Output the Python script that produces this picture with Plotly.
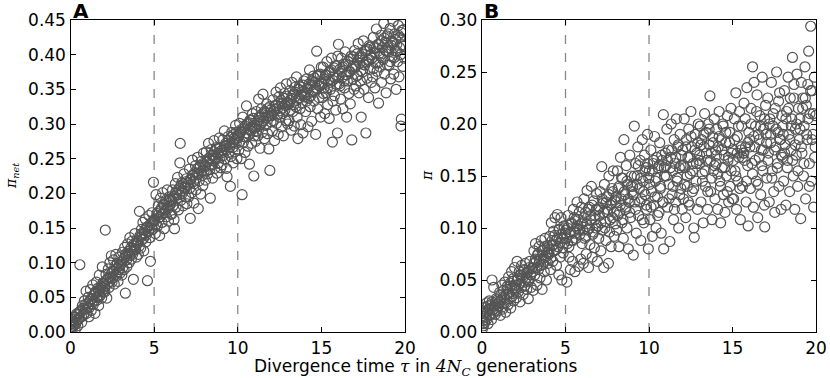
import plotly.graph_objects as go

# ---- panel A: pi_net vs divergence time ----
tau_a = [
    0.02, 0.05, 0.08, 0.12, 0.15, 0.2, 0.24, 0.28, 0.31, 0.36, 0.4, 0.44, 0.5, 0.53, 0.56, 0.62, 0.67, 0.71, 0.78, 0.83, 0.88, 0.93, 0.97,
    1.02, 1.06, 1.1, 1.15, 1.19, 1.24, 1.28, 1.33, 1.37, 1.42, 1.46, 1.5, 1.55, 1.59, 1.63, 1.68, 1.72, 1.77, 1.81, 1.86, 1.9, 1.95, 1.98,
    2.02, 2.06, 2.08, 2.12, 2.17, 2.21, 2.26, 2.3, 2.35, 2.39, 2.44, 2.48, 2.53, 2.57, 2.62, 2.66, 2.71, 2.75, 2.8, 2.84, 2.89, 2.93, 2.97,
    3.03, 3.07, 3.11, 3.15, 3.2, 3.24, 3.28, 3.32, 3.37, 3.41, 3.46, 3.5, 3.55, 3.59, 3.64, 3.68, 3.72, 3.76, 3.81, 3.85, 3.9, 3.94, 3.98,
    4.02, 4.06, 4.12, 4.15, 4.2, 4.24, 4.29, 4.33, 4.38, 4.42, 4.47, 4.51, 4.56, 4.6, 4.65, 4.69, 4.74, 4.78, 4.82, 4.87, 4.91, 4.96, 4.99,
    5.03, 5.07, 5.11, 5.16, 5.2, 5.25, 5.29, 5.33, 5.38, 5.42, 5.47, 5.51, 5.55, 5.6, 5.64, 5.69, 5.73, 5.78, 5.82, 5.86, 5.91, 5.95, 5.99,
    6.02, 6.06, 6.1, 6.15, 6.19, 6.22, 6.27, 6.31, 6.36, 6.4, 6.45, 6.49, 6.54, 6.56, 6.6, 6.65, 6.69, 6.74, 6.78, 6.83, 6.87, 6.92, 6.96,
    7.02, 7.07, 7.11, 7.16, 7.2, 7.25, 7.29, 7.33, 7.38, 7.42, 7.47, 7.51, 7.56, 7.6, 7.64, 7.69, 7.73, 7.78, 7.82, 7.87, 7.91, 7.95, 7.99,
    8.03, 8.07, 8.12, 8.16, 8.2, 8.25, 8.29, 8.33, 8.36, 8.41, 8.45, 8.5, 8.54, 8.58, 8.63, 8.67, 8.72, 8.76, 8.81, 8.85, 8.9, 8.94, 8.98,
    9.02, 9.06, 9.11, 9.15, 9.2, 9.24, 9.29, 9.33, 9.36, 9.42, 9.46, 9.51, 9.56, 9.6, 9.64, 9.69, 9.73, 9.78, 9.82, 9.87, 9.91, 9.95, 9.99,
    10.02, 10.06, 10.11, 10.15, 10.2, 10.26, 10.3, 10.34, 10.39, 10.43, 10.48, 10.52, 10.56, 10.61, 10.65, 10.7, 10.74, 10.79, 10.83, 10.88, 10.92, 10.96, 10.99,
    11.03, 11.07, 11.11, 11.16, 11.2, 11.25, 11.29, 11.33, 11.38, 11.42, 11.47, 11.51, 11.55, 11.6, 11.64, 11.69, 11.73, 11.78, 11.82, 11.86, 11.92, 11.95, 11.99,
    12.02, 12.07, 12.11, 12.15, 12.2, 12.24, 12.29, 12.33, 12.38, 12.42, 12.46, 12.51, 12.55, 12.6, 12.64, 12.69, 12.73, 12.78, 12.82, 12.87, 12.91, 12.95, 12.99,
    13.03, 13.07, 13.12, 13.16, 13.2, 13.25, 13.29, 13.33, 13.38, 13.42, 13.47, 13.51, 13.55, 13.6, 13.64, 13.69, 13.73, 13.77, 13.82, 13.86, 13.9, 13.95, 13.99,
    14.02, 14.06, 14.11, 14.15, 14.2, 14.24, 14.29, 14.33, 14.38, 14.42, 14.47, 14.51, 14.56, 14.6, 14.66, 14.69, 14.72, 14.78, 14.82, 14.86, 14.91, 14.95, 14.99,
    15.03, 15.07, 15.11, 15.16, 15.2, 15.25, 15.29, 15.33, 15.38, 15.42, 15.47, 15.51, 15.55, 15.6, 15.66, 15.69, 15.73, 15.78, 15.82, 15.86, 15.91, 15.96, 15.99,
    16.02, 16.07, 16.11, 16.15, 16.2, 16.24, 16.29, 16.33, 16.38, 16.42, 16.46, 16.51, 16.55, 16.6, 16.64, 16.69, 16.73, 16.78, 16.82, 16.87, 16.91, 16.95, 16.99,
    17.03, 17.07, 17.12, 17.16, 17.2, 17.25, 17.29, 17.33, 17.38, 17.42, 17.47, 17.51, 17.55, 17.6, 17.66, 17.69, 17.73, 17.78, 17.82, 17.86, 17.91, 17.95, 17.99,
    18.02, 18.06, 18.11, 18.15, 18.2, 18.24, 18.29, 18.33, 18.38, 18.42, 18.47, 18.51, 18.56, 18.6, 18.64, 18.69, 18.73, 18.78, 18.82, 18.87, 18.91, 18.95, 18.99,
    19.02, 19.06, 19.11, 19.15, 19.2, 19.24, 19.29, 19.33, 19.38, 19.42, 19.47, 19.51, 19.56, 19.6, 19.64, 19.69, 19.73, 19.76, 19.78, 19.82, 19.87, 19.91, 19.96,
]
pinet_a = [
    0.004, 0.012, 0.001, 0.018, 0.008, 0.015, 0.022, 0.003, 0.011, 0.026, 0.017, 0.009, 0.028, 0.02, 0.097, 0.031, 0.014, 0.038, 0.024, 0.045, 0.033, 0.059, 0.027,
    0.036, 0.05, 0.022, 0.044, 0.061, 0.031, 0.048, 0.068, 0.04, 0.055, 0.027, 0.058, 0.072, 0.046, 0.063, 0.038, 0.082, 0.054, 0.066, 0.049, 0.094, 0.071, 0.058,
    0.07, 0.058, 0.147, 0.083, 0.049, 0.076, 0.091, 0.064, 0.1, 0.079, 0.11, 0.072, 0.088, 0.104, 0.069, 0.095, 0.112, 0.081, 0.099, 0.073, 0.108, 0.09, 0.085,
    0.098, 0.082, 0.115, 0.104, 0.09, 0.122, 0.056, 0.109, 0.094, 0.127, 0.113, 0.1, 0.136, 0.118, 0.105, 0.131, 0.112, 0.076, 0.124, 0.142, 0.119, 0.108, 0.133,
    0.128, 0.112, 0.174, 0.139, 0.121, 0.148, 0.133, 0.158, 0.117, 0.142, 0.163, 0.13, 0.151, 0.074, 0.145, 0.168, 0.136, 0.102, 0.157, 0.172, 0.148, 0.216, 0.161,
    0.16, 0.142, 0.198, 0.171, 0.153, 0.182, 0.165, 0.139, 0.193, 0.176, 0.158, 0.201, 0.184, 0.149, 0.172, 0.19, 0.166, 0.205, 0.178, 0.16, 0.195, 0.183, 0.17,
    0.188, 0.17, 0.205, 0.192, 0.162, 0.149, 0.214, 0.18, 0.198, 0.223, 0.176, 0.207, 0.244, 0.272, 0.19, 0.215, 0.2, 0.182, 0.228, 0.209, 0.195, 0.221, 0.185,
    0.212, 0.195, 0.235, 0.164, 0.22, 0.201, 0.248, 0.226, 0.186, 0.214, 0.24, 0.205, 0.229, 0.252, 0.178, 0.218, 0.237, 0.199, 0.246, 0.226, 0.211, 0.258, 0.232,
    0.238, 0.219, 0.26, 0.245, 0.228, 0.272, 0.25, 0.234, 0.193, 0.263, 0.241, 0.222, 0.255, 0.276, 0.236, 0.249, 0.266, 0.229, 0.258, 0.244, 0.28, 0.252, 0.237,
    0.258, 0.241, 0.277, 0.262, 0.29, 0.249, 0.268, 0.236, 0.224, 0.282, 0.259, 0.271, 0.21, 0.253, 0.288, 0.266, 0.244, 0.279, 0.26, 0.298, 0.272, 0.25, 0.284,
    0.28, 0.262, 0.301, 0.288, 0.25, 0.198, 0.31, 0.274, 0.293, 0.259, 0.281, 0.326, 0.3, 0.268, 0.285, 0.242, 0.306, 0.29, 0.272, 0.315, 0.296, 0.225, 0.283,
    0.294, 0.275, 0.318, 0.301, 0.283, 0.336, 0.297, 0.265, 0.31, 0.322, 0.288, 0.343, 0.305, 0.279, 0.316, 0.298, 0.329, 0.286, 0.311, 0.264, 0.233, 0.32, 0.303,
    0.312, 0.29, 0.335, 0.318, 0.276, 0.327, 0.346, 0.301, 0.322, 0.285, 0.339, 0.31, 0.352, 0.296, 0.329, 0.315, 0.283, 0.344, 0.32, 0.305, 0.358, 0.331, 0.3,
    0.328, 0.305, 0.348, 0.334, 0.291, 0.36, 0.318, 0.342, 0.297, 0.353, 0.325, 0.368, 0.31, 0.279, 0.337, 0.355, 0.322, 0.299, 0.346, 0.33, 0.287, 0.362, 0.339,
    0.342, 0.318, 0.365, 0.351, 0.296, 0.337, 0.378, 0.325, 0.356, 0.304, 0.346, 0.369, 0.333, 0.36, 0.285, 0.349, 0.405, 0.322, 0.371, 0.338, 0.355, 0.31, 0.382,
    0.36, 0.338, 0.382, 0.352, 0.315, 0.371, 0.345, 0.39, 0.328, 0.362, 0.308, 0.376, 0.35, 0.395, 0.274, 0.333, 0.368, 0.341, 0.384, 0.32, 0.357, 0.287, 0.398,
    0.415, 0.358, 0.379, 0.336, 0.395, 0.367, 0.322, 0.386, 0.352, 0.404, 0.371, 0.31, 0.362, 0.39, 0.344, 0.376, 0.329, 0.398, 0.277, 0.365, 0.383, 0.35, 0.406,
    0.382, 0.355, 0.401, 0.37, 0.416, 0.345, 0.388, 0.362, 0.31, 0.397, 0.375, 0.42, 0.35, 0.385, 0.287, 0.406, 0.366, 0.392, 0.338, 0.413, 0.379, 0.4, 0.36,
    0.395, 0.368, 0.425, 0.41, 0.352, 0.388, 0.437, 0.376, 0.415, 0.33, 0.402, 0.382, 0.428, 0.36, 0.41, 0.393, 0.445, 0.372, 0.418, 0.345, 0.405, 0.385, 0.43,
    0.41, 0.385, 0.438, 0.365, 0.42, 0.397, 0.448, 0.372, 0.43, 0.405, 0.35, 0.415, 0.39, 0.442, 0.368, 0.425, 0.4, 0.297, 0.307, 0.435, 0.383, 0.412, 0.395,
]
# denser core of the panel A band
tau_a_core = [
    0.04, 0.1, 0.18, 0.26, 0.34, 0.42, 0.5, 0.58, 0.66, 0.74, 0.82, 0.9,
    1.04, 1.12, 1.2, 1.28, 1.36, 1.44, 1.52, 1.6, 1.68, 1.76, 1.84, 1.92,
    2.04, 2.12, 2.2, 2.28, 2.36, 2.44, 2.52, 2.6, 2.68, 2.76, 2.84, 2.92,
    3.04, 3.12, 3.2, 3.28, 3.36, 3.44, 3.52, 3.6, 3.68, 3.76, 3.84, 3.92,
    4.04, 4.12, 4.2, 4.28, 4.36, 4.44, 4.52, 4.6, 4.68, 4.76, 4.84, 4.92,
    5.04, 5.12, 5.2, 5.28, 5.36, 5.44, 5.52, 5.6, 5.68, 5.76, 5.84, 5.92,
    6.04, 6.12, 6.2, 6.28, 6.36, 6.44, 6.52, 6.6, 6.68, 6.76, 6.84, 6.92,
    7.04, 7.12, 7.2, 7.28, 7.36, 7.44, 7.52, 7.6, 7.68, 7.76, 7.84, 7.92,
    8.04, 8.12, 8.2, 8.28, 8.36, 8.44, 8.52, 8.6, 8.68, 8.76, 8.84, 8.92,
    9.04, 9.12, 9.2, 9.28, 9.36, 9.44, 9.52, 9.6, 9.68, 9.76, 9.84, 9.92,
    10.04, 10.12, 10.2, 10.28, 10.36, 10.44, 10.52, 10.6, 10.68, 10.76, 10.84, 10.92,
    11.04, 11.12, 11.2, 11.28, 11.36, 11.44, 11.52, 11.6, 11.68, 11.76, 11.84, 11.92,
    12.04, 12.12, 12.2, 12.28, 12.36, 12.44, 12.52, 12.6, 12.68, 12.76, 12.84, 12.92,
    13.04, 13.12, 13.2, 13.28, 13.36, 13.44, 13.52, 13.6, 13.68, 13.76, 13.84, 13.92,
    14.04, 14.12, 14.2, 14.28, 14.36, 14.44, 14.52, 14.6, 14.68, 14.76, 14.84, 14.92,
    15.04, 15.12, 15.2, 15.28, 15.36, 15.44, 15.52, 15.6, 15.68, 15.76, 15.84, 15.92,
    16.04, 16.12, 16.2, 16.28, 16.36, 16.44, 16.52, 16.6, 16.68, 16.76, 16.84, 16.92,
    17.04, 17.12, 17.2, 17.28, 17.36, 17.44, 17.52, 17.6, 17.68, 17.76, 17.84, 17.92,
    18.04, 18.12, 18.2, 18.28, 18.36, 18.44, 18.52, 18.6, 18.68, 18.76, 18.84, 18.92,
    19.04, 19.12, 19.2, 19.28, 19.36, 19.44, 19.52, 19.6, 19.68, 19.76, 19.84, 19.92,
]
pinet_a_core = [
    0.007, 0.016, 0.01, 0.021, 0.014, 0.025, 0.019, 0.03, 0.022, 0.034, 0.027, 0.04,
    0.042, 0.035, 0.047, 0.041, 0.052, 0.045, 0.056, 0.05, 0.06, 0.052, 0.064, 0.06,
    0.066, 0.074, 0.069, 0.079, 0.073, 0.084, 0.078, 0.088, 0.083, 0.092, 0.086, 0.096,
    0.101, 0.093, 0.106, 0.112, 0.104, 0.116, 0.11, 0.121, 0.115, 0.126, 0.12, 0.129,
    0.131, 0.124, 0.137, 0.142, 0.135, 0.147, 0.14, 0.152, 0.146, 0.155, 0.15, 0.16,
    0.163, 0.155, 0.168, 0.174, 0.166, 0.179, 0.171, 0.183, 0.176, 0.188, 0.181, 0.19,
    0.19, 0.182, 0.196, 0.201, 0.192, 0.205, 0.198, 0.211, 0.203, 0.214, 0.207, 0.217,
    0.215, 0.207, 0.221, 0.226, 0.217, 0.23, 0.222, 0.236, 0.228, 0.24, 0.232, 0.243,
    0.24, 0.232, 0.246, 0.251, 0.242, 0.255, 0.247, 0.26, 0.252, 0.264, 0.256, 0.266,
    0.262, 0.254, 0.268, 0.272, 0.263, 0.276, 0.267, 0.281, 0.273, 0.285, 0.277, 0.288,
    0.283, 0.274, 0.289, 0.293, 0.282, 0.297, 0.287, 0.301, 0.292, 0.305, 0.296, 0.308,
    0.298, 0.29, 0.305, 0.31, 0.299, 0.314, 0.304, 0.318, 0.309, 0.322, 0.312, 0.325,
    0.315, 0.305, 0.321, 0.326, 0.313, 0.33, 0.319, 0.334, 0.323, 0.337, 0.327, 0.34,
    0.33, 0.32, 0.337, 0.342, 0.328, 0.346, 0.334, 0.35, 0.338, 0.353, 0.341, 0.356,
    0.345, 0.333, 0.352, 0.358, 0.341, 0.362, 0.348, 0.366, 0.352, 0.369, 0.356, 0.372,
    0.357, 0.344, 0.365, 0.37, 0.352, 0.374, 0.36, 0.378, 0.363, 0.381, 0.366, 0.384,
    0.368, 0.355, 0.376, 0.382, 0.362, 0.386, 0.371, 0.39, 0.375, 0.394, 0.379, 0.397,
    0.383, 0.37, 0.392, 0.397, 0.377, 0.401, 0.386, 0.405, 0.39, 0.408, 0.393, 0.411,
    0.395, 0.38, 0.404, 0.41, 0.388, 0.415, 0.398, 0.42, 0.402, 0.424, 0.406, 0.427,
    0.404, 0.39, 0.413, 0.418, 0.396, 0.422, 0.405, 0.428, 0.41, 0.432, 0.414, 0.436,
]

# ---- panel B: pi vs divergence time ----
tau_b = [
    0.02, 0.05, 0.09, 0.12, 0.16, 0.2, 0.24, 0.28, 0.32, 0.36, 0.4, 0.44, 0.49, 0.53, 0.57, 0.6, 0.65, 0.7, 0.75, 0.8, 0.85, 0.9, 0.96,
    1.02, 1.06, 1.1, 1.15, 1.19, 1.24, 1.28, 1.33, 1.37, 1.42, 1.46, 1.5, 1.55, 1.59, 1.63, 1.68, 1.72, 1.77, 1.81, 1.86, 1.9, 1.95, 1.98,
    2.02, 2.06, 2.1, 2.15, 2.19, 2.23, 2.28, 2.32, 2.37, 2.41, 2.46, 2.5, 2.55, 2.59, 2.64, 2.68, 2.72, 2.77, 2.81, 2.86, 2.9, 2.94, 2.98,
    3.03, 3.07, 3.11, 3.16, 3.2, 3.25, 3.29, 3.33, 3.38, 3.42, 3.47, 3.51, 3.55, 3.6, 3.64, 3.69, 3.73, 3.77, 3.82, 3.86, 3.9, 3.95, 3.99,
    4.02, 4.06, 4.11, 4.15, 4.2, 4.24, 4.28, 4.33, 4.37, 4.42, 4.46, 4.51, 4.55, 4.6, 4.64, 4.69, 4.73, 4.78, 4.82, 4.86, 4.91, 4.95, 4.99,
    5.03, 5.08, 5.12, 5.16, 5.21, 5.25, 5.29, 5.34, 5.38, 5.42, 5.47, 5.51, 5.56, 5.6, 5.64, 5.69, 5.73, 5.78, 5.82, 5.87, 5.91, 5.95, 5.99,
    6.02, 6.07, 6.11, 6.15, 6.2, 6.24, 6.29, 6.33, 6.38, 6.42, 6.46, 6.51, 6.55, 6.6, 6.64, 6.69, 6.73, 6.77, 6.82, 6.86, 6.91, 6.95, 6.99,
    7.03, 7.07, 7.12, 7.17, 7.2, 7.25, 7.29, 7.33, 7.38, 7.42, 7.47, 7.51, 7.57, 7.6, 7.64, 7.69, 7.73, 7.78, 7.82, 7.86, 7.91, 7.95, 7.99,
    8.02, 8.06, 8.11, 8.15, 8.2, 8.24, 8.29, 8.33, 8.38, 8.42, 8.46, 8.5, 8.55, 8.59, 8.64, 8.68, 8.72, 8.76, 8.81, 8.85, 8.9, 8.94, 8.98,
    9.02, 9.06, 9.12, 9.15, 9.2, 9.24, 9.29, 9.33, 9.38, 9.42, 9.47, 9.51, 9.55, 9.6, 9.64, 9.69, 9.73, 9.77, 9.82, 9.86, 9.91, 9.96, 9.99,
    10.02, 10.06, 10.11, 10.15, 10.2, 10.24, 10.29, 10.33, 10.38, 10.42, 10.47, 10.51, 10.55, 10.6, 10.64, 10.69, 10.73, 10.78, 10.82, 10.86, 10.88, 10.93, 10.98,
    11.02, 11.07, 11.11, 11.16, 11.2, 11.25, 11.29, 11.33, 11.38, 11.42, 11.47, 11.51, 11.55, 11.6, 11.64, 11.69, 11.73, 11.78, 11.82, 11.86, 11.91, 11.95, 11.99,
    12.02, 12.06, 12.11, 12.15, 12.2, 12.24, 12.29, 12.33, 12.38, 12.42, 12.47, 12.51, 12.55, 12.6, 12.64, 12.68, 12.71, 12.77, 12.82, 12.86, 12.9, 12.95, 12.99,
    13.03, 13.07, 13.11, 13.16, 13.2, 13.25, 13.29, 13.33, 13.38, 13.42, 13.47, 13.51, 13.55, 13.6, 13.65, 13.69, 13.73, 13.77, 13.82, 13.86, 13.91, 13.95, 13.99,
    14.02, 14.06, 14.11, 14.15, 14.2, 14.24, 14.29, 14.33, 14.38, 14.42, 14.46, 14.51, 14.55, 14.6, 14.64, 14.69, 14.73, 14.77, 14.82, 14.86, 14.91, 14.95, 14.99,
    15.02, 15.07, 15.11, 15.15, 15.2, 15.24, 15.29, 15.33, 15.38, 15.42, 15.47, 15.51, 15.55, 15.6, 15.64, 15.69, 15.73, 15.78, 15.82, 15.86, 15.91, 15.94, 15.98,
    16.03, 16.07, 16.11, 16.16, 16.2, 16.25, 16.29, 16.33, 16.38, 16.42, 16.47, 16.51, 16.55, 16.6, 16.64, 16.69, 16.73, 16.78, 16.82, 16.86, 16.91, 16.93, 16.98,
    17.02, 17.06, 17.11, 17.15, 17.2, 17.24, 17.29, 17.33, 17.38, 17.42, 17.47, 17.53, 17.56, 17.6, 17.64, 17.69, 17.73, 17.78, 17.82, 17.86, 17.91, 17.95, 17.99,
    18.02, 18.06, 18.11, 18.15, 18.2, 18.24, 18.29, 18.33, 18.38, 18.42, 18.46, 18.51, 18.55, 18.59, 18.64, 18.68, 18.73, 18.77, 18.82, 18.86, 18.9, 18.95, 18.99,
    19.03, 19.08, 19.12, 19.16, 19.21, 19.25, 19.29, 19.34, 19.38, 19.42, 19.47, 19.51, 19.56, 19.6, 19.64, 19.68, 19.73, 19.77, 19.82, 19.86, 19.9, 19.95, 19.98,
]
pi_b = [
    0.003, 0.011, 0.006, 0.018, 0.009, 0.024, 0.014, 0.028, 0.019, 0.008, 0.022, 0.03, 0.016, 0.026, 0.012, 0.05, 0.021, 0.043, 0.025, 0.017, 0.032, 0.02, 0.027,
    0.025, 0.038, 0.016, 0.031, 0.045, 0.022, 0.034, 0.028, 0.048, 0.019, 0.036, 0.041, 0.026, 0.053, 0.032, 0.044, 0.023, 0.058, 0.037, 0.049, 0.03, 0.062, 0.042,
    0.045, 0.033, 0.068, 0.051, 0.039, 0.058, 0.029, 0.047, 0.064, 0.054, 0.036, 0.06, 0.044, 0.066, 0.052, 0.041, 0.057, 0.032, 0.049, 0.068, 0.055, 0.043, 0.061,
    0.062, 0.04, 0.078, 0.055, 0.085, 0.068, 0.045, 0.074, 0.06, 0.082, 0.052, 0.07, 0.088, 0.041, 0.065, 0.079, 0.058, 0.09, 0.072, 0.05, 0.083, 0.066, 0.077,
    0.075, 0.092, 0.06, 0.105, 0.083, 0.068, 0.097, 0.078, 0.11, 0.088, 0.064, 0.113, 0.082, 0.055, 0.099, 0.072, 0.11, 0.05, 0.09, 0.076, 0.102, 0.086, 0.095,
    0.098, 0.048, 0.085, 0.112, 0.072, 0.094, 0.06, 0.105, 0.088, 0.068, 0.118, 0.097, 0.058, 0.108, 0.09, 0.125, 0.102, 0.063, 0.115, 0.094, 0.07, 0.12, 0.085,
    0.105, 0.066, 0.128, 0.09, 0.115, 0.075, 0.136, 0.098, 0.062, 0.12, 0.084, 0.108, 0.14, 0.072, 0.094, 0.126, 0.081, 0.112, 0.1, 0.133, 0.068, 0.118, 0.09,
    0.112, 0.135, 0.078, 0.159, 0.098, 0.124, 0.062, 0.142, 0.106, 0.088, 0.13, 0.115, 0.066, 0.15, 0.096, 0.122, 0.082, 0.138, 0.11, 0.155, 0.092, 0.127, 0.104,
    0.125, 0.098, 0.155, 0.138, 0.082, 0.115, 0.168, 0.128, 0.105, 0.148, 0.09, 0.185, 0.132, 0.118, 0.16, 0.1, 0.142, 0.08, 0.125, 0.17, 0.11, 0.15, 0.135,
    0.14, 0.074, 0.198, 0.125, 0.162, 0.095, 0.15, 0.178, 0.112, 0.138, 0.165, 0.088, 0.128, 0.185, 0.145, 0.105, 0.17, 0.132, 0.158, 0.118, 0.19, 0.08, 0.148,
    0.155, 0.108, 0.175, 0.135, 0.092, 0.162, 0.122, 0.188, 0.145, 0.1, 0.168, 0.13, 0.158, 0.115, 0.182, 0.14, 0.095, 0.165, 0.125, 0.209, 0.08, 0.15, 0.172,
    0.16, 0.195, 0.12, 0.175, 0.142, 0.087, 0.168, 0.2, 0.132, 0.155, 0.108, 0.185, 0.162, 0.125, 0.205, 0.148, 0.178, 0.1, 0.158, 0.19, 0.138, 0.17, 0.118,
    0.175, 0.128, 0.205, 0.158, 0.11, 0.185, 0.14, 0.168, 0.195, 0.122, 0.152, 0.212, 0.178, 0.135, 0.162, 0.1, 0.091, 0.19, 0.145, 0.172, 0.118, 0.2, 0.165,
    0.17, 0.198, 0.125, 0.185, 0.152, 0.105, 0.178, 0.21, 0.14, 0.192, 0.165, 0.118, 0.2, 0.18, 0.227, 0.135, 0.172, 0.108, 0.188, 0.155, 0.205, 0.128, 0.175,
    0.162, 0.195, 0.118, 0.178, 0.212, 0.145, 0.105, 0.185, 0.158, 0.2, 0.132, 0.17, 0.115, 0.192, 0.15, 0.208, 0.165, 0.125, 0.182, 0.14, 0.215, 0.172, 0.128,
    0.175, 0.128, 0.205, 0.155, 0.23, 0.118, 0.188, 0.145, 0.168, 0.212, 0.108, 0.175, 0.198, 0.14, 0.172, 0.22, 0.165, 0.178, 0.125, 0.235, 0.16, 0.102, 0.192,
    0.185, 0.138, 0.215, 0.162, 0.255, 0.12, 0.24, 0.178, 0.198, 0.145, 0.228, 0.11, 0.19, 0.168, 0.208, 0.132, 0.175, 0.245, 0.155, 0.195, 0.122, 0.101, 0.218,
    0.19, 0.148, 0.225, 0.172, 0.125, 0.205, 0.182, 0.24, 0.155, 0.198, 0.135, 0.115, 0.215, 0.178, 0.25, 0.162, 0.192, 0.14, 0.23, 0.185, 0.118, 0.208, 0.168,
    0.198, 0.145, 0.232, 0.18, 0.122, 0.212, 0.165, 0.245, 0.19, 0.135, 0.225, 0.175, 0.205, 0.264, 0.15, 0.238, 0.118, 0.195, 0.17, 0.248, 0.14, 0.215, 0.185,
    0.205, 0.109, 0.24, 0.172, 0.225, 0.15, 0.198, 0.255, 0.128, 0.218, 0.185, 0.238, 0.27, 0.162, 0.21, 0.294, 0.145, 0.232, 0.19, 0.12, 0.245, 0.178, 0.208,
]
# denser core of the panel B band
tau_b_core = [
    0.04, 0.12, 0.2, 0.28, 0.36, 0.44, 0.52, 0.6, 0.68, 0.76, 0.84, 0.92,
    1.04, 1.12, 1.2, 1.28, 1.36, 1.44, 1.52, 1.6, 1.68, 1.76, 1.84, 1.92,
    2.04, 2.12, 2.2, 2.28, 2.36, 2.44, 2.52, 2.6, 2.68, 2.76, 2.84, 2.92,
    3.04, 3.12, 3.2, 3.28, 3.36, 3.44, 3.52, 3.6, 3.68, 3.76, 3.84, 3.92,
    4.04, 4.12, 4.2, 4.28, 4.36, 4.44, 4.52, 4.6, 4.68, 4.76, 4.84, 4.92,
    5.04, 5.12, 5.2, 5.28, 5.36, 5.44, 5.52, 5.6, 5.68, 5.76, 5.84, 5.92,
    6.04, 6.12, 6.2, 6.28, 6.36, 6.44, 6.52, 6.6, 6.68, 6.76, 6.84, 6.92,
    7.04, 7.12, 7.2, 7.28, 7.36, 7.44, 7.52, 7.6, 7.68, 7.76, 7.84, 7.92,
    8.04, 8.12, 8.2, 8.28, 8.36, 8.44, 8.52, 8.6, 8.68, 8.76, 8.84, 8.92,
    9.04, 9.12, 9.2, 9.28, 9.36, 9.44, 9.52, 9.6, 9.68, 9.76, 9.84, 9.92,
    10.04, 10.12, 10.2, 10.28, 10.36, 10.44, 10.52, 10.6, 10.68, 10.76, 10.84, 10.92,
    11.04, 11.12, 11.2, 11.28, 11.36, 11.44, 11.52, 11.6, 11.68, 11.76, 11.84, 11.92,
    12.04, 12.12, 12.2, 12.28, 12.36, 12.44, 12.52, 12.6, 12.68, 12.76, 12.84, 12.92,
    13.04, 13.12, 13.2, 13.28, 13.36, 13.44, 13.52, 13.6, 13.68, 13.76, 13.84, 13.92,
    14.04, 14.12, 14.2, 14.28, 14.36, 14.44, 14.52, 14.6, 14.68, 14.76, 14.84, 14.92,
    15.04, 15.12, 15.2, 15.28, 15.36, 15.44, 15.52, 15.6, 15.68, 15.76, 15.84, 15.92,
    16.04, 16.12, 16.2, 16.28, 16.36, 16.44, 16.52, 16.6, 16.68, 16.76, 16.84, 16.92,
    17.04, 17.12, 17.2, 17.28, 17.36, 17.44, 17.52, 17.6, 17.68, 17.76, 17.84, 17.92,
    18.04, 18.12, 18.2, 18.28, 18.36, 18.44, 18.52, 18.6, 18.68, 18.76, 18.84, 18.92,
    19.04, 19.12, 19.2, 19.28, 19.36, 19.44, 19.52, 19.6, 19.68, 19.76, 19.84, 19.92,
]
pi_b_core = [
    0.008, 0.015, 0.02, 0.012, 0.025, 0.017, 0.022, 0.029, 0.018, 0.026, 0.021, 0.031,
    0.029, 0.035, 0.024, 0.04, 0.033, 0.028, 0.044, 0.037, 0.047, 0.034, 0.051, 0.043,
    0.04, 0.05, 0.046, 0.055, 0.043, 0.052, 0.059, 0.048, 0.057, 0.05, 0.062, 0.055,
    0.058, 0.066, 0.07, 0.062, 0.075, 0.068, 0.064, 0.078, 0.071, 0.082, 0.069, 0.076,
    0.08, 0.071, 0.088, 0.084, 0.093, 0.079, 0.09, 0.098, 0.086, 0.094, 0.081, 0.1,
    0.09, 0.1, 0.082, 0.096, 0.104, 0.088, 0.11, 0.095, 0.1, 0.108, 0.098, 0.104,
    0.098, 0.11, 0.092, 0.104, 0.118, 0.1, 0.112, 0.122, 0.096, 0.108, 0.118, 0.102,
    0.12, 0.105, 0.128, 0.115, 0.1, 0.125, 0.118, 0.132, 0.108, 0.124, 0.135, 0.115,
    0.13, 0.112, 0.14, 0.122, 0.148, 0.108, 0.135, 0.12, 0.145, 0.128, 0.115, 0.14,
    0.132, 0.15, 0.118, 0.142, 0.16, 0.125, 0.148, 0.108, 0.135, 0.155, 0.122, 0.162,
    0.142, 0.12, 0.155, 0.165, 0.13, 0.148, 0.112, 0.16, 0.138, 0.17, 0.125, 0.158,
    0.15, 0.165, 0.128, 0.158, 0.175, 0.14, 0.118, 0.168, 0.145, 0.18, 0.132, 0.16,
    0.16, 0.142, 0.178, 0.15, 0.125, 0.168, 0.188, 0.155, 0.138, 0.175, 0.162, 0.182,
    0.162, 0.18, 0.145, 0.19, 0.155, 0.172, 0.135, 0.195, 0.165, 0.148, 0.182, 0.16,
    0.17, 0.152, 0.188, 0.14, 0.175, 0.198, 0.158, 0.182, 0.135, 0.168, 0.192, 0.155,
    0.165, 0.185, 0.15, 0.172, 0.198, 0.138, 0.178, 0.168, 0.172, 0.205, 0.145, 0.182,
    0.178, 0.2, 0.152, 0.188, 0.165, 0.212, 0.142, 0.185, 0.198, 0.16, 0.175, 0.205,
    0.182, 0.165, 0.2, 0.19, 0.148, 0.21, 0.175, 0.195, 0.158, 0.222, 0.185, 0.17,
    0.19, 0.172, 0.205, 0.158, 0.215, 0.185, 0.198, 0.165, 0.225, 0.18, 0.2, 0.155,
    0.195, 0.178, 0.215, 0.162, 0.225, 0.19, 0.205, 0.14, 0.232, 0.185, 0.21, 0.168,
]

tau_marks = [5, 10]          # dashed reference lines
x_ticks = [0, 5, 10, 15, 20]
y_ticks_a = [0.0, 0.05, 0.10, 0.15, 0.20, 0.25, 0.30, 0.35, 0.40, 0.45]
y_ticks_b = [0.0, 0.05, 0.10, 0.15, 0.20, 0.25, 0.30]

W, H = 830, 378
PT = 20    # top of plot area (px)
PB = 332   # bottom of plot area (px)
grey = "#555555"
tick_font = dict(family="DejaVu Sans", size=17, color="black")

fig = go.Figure()

marker = dict(symbol="circle-open", size=10, color=grey, line=dict(width=1.2, color=grey))
fig.add_trace(go.Scatter(x=tau_a + tau_a_core, y=pinet_a + pinet_a_core, mode="markers", marker=marker,
                         xaxis="x", yaxis="y", showlegend=False))
fig.add_trace(go.Scatter(x=tau_b + tau_b_core, y=pi_b + pi_b_core, mode="markers", marker=marker,
                         xaxis="x2", yaxis="y2", showlegend=False))

axis_common = dict(
    showline=True, linecolor="black", linewidth=1.3, mirror="ticks",
    ticks="inside", ticklen=5, tickwidth=1, tickcolor="black",
    showgrid=False, zeroline=False, tickfont=tick_font, automargin=False,
)
ydom = [1 - PB / H, 1 - PT / H]

fig.update_layout(
    width=W, height=H,
    margin=dict(l=0, r=0, t=0, b=0, autoexpand=False),
    paper_bgcolor="white", plot_bgcolor="white",
    xaxis=dict(domain=[70.5 / W, 405 / W], range=[0, 20], tickvals=x_ticks, anchor="y", **axis_common),
    yaxis=dict(domain=ydom, range=[0, 0.45], tickvals=y_ticks_a, tickformat=".2f", anchor="x", **axis_common),
    xaxis2=dict(domain=[482 / W, 816 / W], range=[0, 20], tickvals=x_ticks, anchor="y2", **axis_common),
    yaxis2=dict(domain=ydom, range=[0, 0.30], tickvals=y_ticks_b, tickformat=".2f", anchor="x2", **axis_common),
)

for xa, ya in (("x", "y"), ("x2", "y2")):
    for t in tau_marks:
        fig.add_shape(type="line", xref=xa, yref=ya + " domain", x0=t, x1=t, y0=0, y1=1,
                      line=dict(color="#888888", width=1.3, dash="dash"), layer="below")

serif = "DejaVu Serif"
fig.add_annotation(x=70.5 / W, y=1 - 11 / H, xref="paper", yref="paper", xanchor="left", yanchor="middle",
                   text="<b>A</b>", showarrow=False,
                   font=dict(family="DejaVu Sans", size=20, color="black"))
fig.add_annotation(x=482 / W, y=1 - 11 / H, xref="paper", yref="paper", xanchor="left", yanchor="middle",
                   text="<b>B</b>", showarrow=False,
                   font=dict(family="DejaVu Sans", size=20, color="black"))
fig.add_annotation(x=12 / W, y=1 - 176 / H, xref="paper", yref="paper", xanchor="center", yanchor="middle",
                   textangle=-90, text="<i>π</i><sub><i>net</i></sub>", showarrow=False,
                   font=dict(family=serif, size=14, color="black"))
fig.add_annotation(x=427 / W, y=1 - 176 / H, xref="paper", yref="paper", xanchor="center", yanchor="middle",
                   textangle=-90, text="<i>π</i>", showarrow=False,
                   font=dict(family=serif, size=14, color="black"))
fig.add_annotation(x=415 / W, y=1 - 367 / H, xref="paper", yref="paper", xanchor="center", yanchor="middle",
                   text=("Divergence time <span style='font-family:DejaVu Serif'><i>τ</i></span> in "
                         "<span style='font-family:DejaVu Serif'><i>4N</i><sub><i>C</i></sub></span> generations"),
                   showarrow=False, font=dict(family="DejaVu Sans", size=17, color="black"))

# the page body has an 8px default margin; drop it so the figure sits at (0, 0)
fig.write_html("out.html", config={"displayModeBar": False},
               post_script="document.body.style.margin='0';document.body.style.overflow='hidden';")
